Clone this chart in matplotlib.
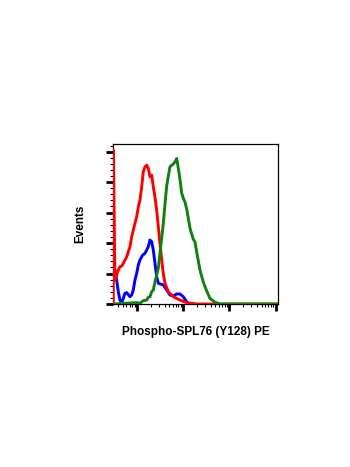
import numpy as np
import matplotlib
matplotlib.use("Agg")
import matplotlib.pyplot as plt
from matplotlib.ticker import LogLocator, MultipleLocator, NullFormatter

# Histogram traces: log10 of PE intensity and event counts
red_logx = [0.495, 0.497, 0.531, 0.568, 0.603, 0.639, 0.676, 0.711, 0.784, 0.855, 0.892,
            0.927, 0.963, 1.000, 1.035, 1.071, 1.108, 1.143, 1.179, 1.216, 1.251, 1.287,
            1.324, 1.359, 1.395, 1.432, 1.467, 1.503, 1.540, 1.575, 1.611, 1.683, 1.790,
            1.935, 2.080, 2.296, 4.052]
red_counts = [0, 101.0, 15.7, 19.0, 22.3, 24.5, 24.9, 26.7, 31.0, 37.6, 44.1,
              48.5, 52.9, 57.2, 63.8, 68.2, 76.9, 86.8, 90.0, 91.1, 89.0, 83.5,
              84.6, 76.9, 70.4, 61.6, 50.7, 39.8, 28.9, 20.1, 13.6, 8.1, 4.8,
              2.6, 0.9, 0, 0]

blue_logx = [0.497, 0.531, 0.568, 0.603, 0.639, 0.676, 0.711, 0.747, 0.784, 0.855, 0.892,
             0.927, 0.963, 1.000, 1.035, 1.071, 1.130, 1.179, 1.251, 1.287, 1.324, 1.359,
             1.395, 1.432, 1.467, 1.575, 1.648, 1.719, 1.790, 1.864, 1.935, 2.006, 2.080,
             2.136]
blue_counts = [26.0, 22.0, 15.7, 8.1, 2.6, 0.5, 3.7, 7.0, 7.5, 4.8, 5.9,
               9.2, 15.7, 20.1, 25.6, 28.9, 32.1, 33.2, 37.6, 42.0, 40.9, 35.4,
               26.7, 17.9, 13.6, 12.5, 9.2, 5.9, 5.2, 6.6, 6.6, 4.8, 1.5,
               0]

green_logx = [0.495, 1.000, 1.071, 1.143, 1.216, 1.251, 1.287, 1.324, 1.359, 1.395, 1.432,
              1.467, 1.503, 1.540, 1.575, 1.611, 1.648, 1.683, 1.719, 1.756, 1.790, 1.827,
              1.864, 1.898, 1.935, 1.972, 2.006, 2.043, 2.080, 2.114, 2.151, 2.188, 2.222,
              2.259, 2.296, 2.367, 2.438, 2.512, 2.583, 2.691, 2.799, 4.052]
green_counts = [0, 0.9, 0.5, 2.2, 2.6, 4.4, 4.8, 8.1, 9.2, 14.6, 19.0,
                23.6, 33.4, 43.3, 52.9, 65.6, 77.4, 83.9, 90.0, 91.1, 91.8, 93.3,
                95.5, 89.2, 82.0, 72.8, 69.5, 66.9, 62.3, 56.4, 49.8, 45.9, 42.6,
                40.7, 34.1, 22.3, 14.4, 8.5, 3.7, 1.2, 0, 0]

x_label = "Phospho-SPL76 (Y128) PE"
y_label = "Events"

plt.rcParams['font.family'] = ['Liberation Sans', 'DejaVu Sans']

fig = plt.figure(figsize=(3.5, 4.67), dpi=100)
ax = fig.add_axes([0.3237, 0.349, 0.4706, 0.3426])

lw = 2.1
ax.plot(10 ** np.array(blue_logx), blue_counts, color='#0000ff', lw=lw, zorder=2)
ax.plot(10 ** np.array(red_logx), red_counts, color='#ff0000', lw=lw, zorder=3)
ax.plot(10 ** np.array(green_logx), green_counts, color='#108010', lw=lw, zorder=4)

ax.set_xscale('log')
ax.set_xlim(10 ** 0.495, 10 ** 4.052)
ax.set_ylim(0, 105)

ax.xaxis.set_major_locator(LogLocator(base=10, numticks=10))
ax.xaxis.set_minor_locator(LogLocator(base=10, subs=np.arange(2, 10), numticks=10))
ax.xaxis.set_major_formatter(NullFormatter())
ax.xaxis.set_minor_formatter(NullFormatter())
ax.yaxis.set_major_locator(MultipleLocator(20))
ax.yaxis.set_minor_locator(MultipleLocator(4))
ax.yaxis.set_major_formatter(NullFormatter())

ax.tick_params(which='major', direction='out', length=5, width=2.0, color='black')
ax.tick_params(which='minor', direction='out', length=2.3, width=0.8, color='black')

for s in ax.spines.values():
    s.set_linewidth(0.9)
    s.set_color('black')

ax.set_xlabel(x_label, fontsize=8.5, fontweight='bold', labelpad=7)
ax.set_ylabel(y_label, fontsize=8.5, fontweight='bold', labelpad=11)

fig.savefig("out.png", dpi=100)
